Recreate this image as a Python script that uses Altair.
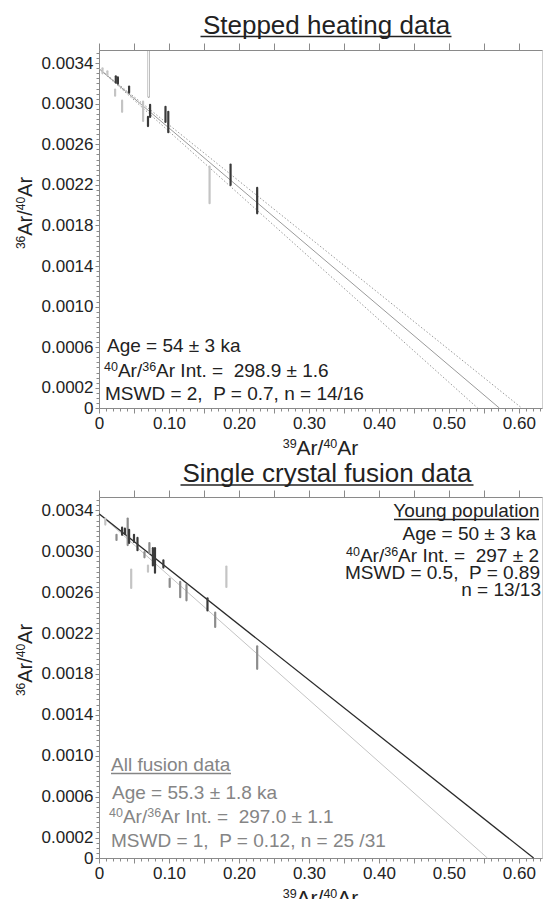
import altair as alt
import pandas as pd

# ---------------- data ----------------
# Stepped heating: error ellipses (x, y low, y high, style)
sh_x   = [0.005, 0.012, 0.024, 0.027, 0.043, 0.023, 0.033, 0.071, 0.063, 0.070, 0.073, 0.095, 0.099, 0.158, 0.188, 0.226]
sh_ylo = [0.00330, 0.00328, 0.00321, 0.00320, 0.00311, 0.00308, 0.00292, 0.00307, 0.00283, 0.00278, 0.00287, 0.00282, 0.00272, 0.00202, 0.00220, 0.00192]
sh_yhi = [0.00335, 0.00332, 0.00327, 0.00326, 0.00317, 0.00314, 0.00303, 0.00352, 0.00302, 0.00287, 0.00299, 0.00297, 0.00292, 0.00238, 0.00240, 0.00217]
sh_grp = ["light", "light", "dark", "dark", "dark", "light", "light", "hollow", "light",
          "dark", "dark", "dark", "dark", "light", "dark", "dark"]

# Stepped heating isochron: solid fit and dotted envelope (x-intercepts)
sh_y0 = 0.003346
sh_fit_x = [0.0, 0.572]
sh_env_lo_x = [0.0, 0.541]
sh_env_hi_x = [0.0, 0.604]

# Single crystal fusion: error ellipses
sc_x   = [0.009, 0.025, 0.033, 0.037, 0.041, 0.043, 0.046, 0.050, 0.055, 0.065, 0.070,
          0.072, 0.077, 0.080, 0.092, 0.101, 0.116, 0.125, 0.155, 0.166, 0.182, 0.226]
sc_ylo = [0.00326, 0.00311, 0.00316, 0.00317, 0.00306, 0.00308, 0.00264, 0.00309, 0.00301, 0.00294, 0.00280,
          0.00298, 0.00286, 0.00279, 0.00284, 0.00265, 0.00255, 0.00252, 0.00242, 0.00226, 0.00265, 0.00185]
sc_yhi = [0.00332, 0.00316, 0.00323, 0.00322, 0.00332, 0.00321, 0.00282, 0.00316, 0.00313, 0.00299, 0.00286,
          0.00308, 0.00303, 0.00303, 0.00291, 0.00273, 0.00270, 0.00267, 0.00254, 0.00240, 0.00285, 0.00207]
sc_grp = ["light", "mid", "dark", "dark", "mid", "dark", "light", "dark", "dark", "mid", "light",
          "mid", "dark", "dark", "dark", "mid", "mid", "mid", "dark", "mid", "light", "mid"]

# Single crystal isochrons
sc_y0 = 0.003367
young_fit_x = [0.0, 0.621]
all_fit_x = [0.0, 0.555]

# Text
sh_title = "Stepped heating data"
sc_title = "Single crystal fusion data"
sh_text = ["Age = 54 ± 3 ka", "⁴⁰Ar/³⁶Ar Int. =  298.9 ± 1.6", "MSWD = 2,  P = 0.7, n = 14/16"]
young_text = ["Young population", "Age = 50 ± 3 ka", "⁴⁰Ar/³⁶Ar Int. =  297 ± 2",
              "MSWD = 0.5,  P = 0.89", "n = 13/13"]
all_text = ["All fusion data", "Age = 55.3 ± 1.8 ka", "⁴⁰Ar/³⁶Ar Int. =  297.0 ± 1.1",
            "MSWD = 1,  P = 0.12, n = 25 /31"]
x_title = "³⁹Ar/⁴⁰Ar"
y_title = "³⁶Ar/⁴⁰Ar"

# Axis tick positions
x_major = [round(i * 0.05, 2) for i in range(13)]
x_minor = [round(i * 0.01, 2) for i in range(64)]
y_major = [0.0] + [round(0.0002 + i * 0.0004, 4) for i in range(9)]
y_minor = [round(i * 0.00005, 5) for i in range(71)]

FONT = "Liberation Sans"
AX = "#8a8a8a"
TXT = "#222222"
GREY_TXT = "#858585"
XDOM = [0, 0.633]
YDOM = [0, 0.00353]
W = 443
COLORS = {"dark": "#3a3a3a", "mid": "#8c8c8c", "light": "#c4c4c4", "hollow": "#8c8c8c"}

# Arial / Liberation Sans advance widths (1/1000 em)
ARIAL = {' ': 278, '\u00a0': 278, ',': 278, '.': 278, '/': 278, '=': 584, '±': 549,
         'A': 667, 'D': 722, 'I': 278, 'M': 833, 'P': 667, 'S': 667, 'W': 944, 'Y': 667,
         'a': 556, 'c': 500, 'd': 556, 'e': 556, 'f': 278, 'g': 556, 'h': 556, 'i': 222,
         'k': 500, 'l': 222, 'n': 556, 'o': 556, 'p': 556, 'r': 333, 's': 500, 't': 278,
         'u': 556, 'y': 500}
SUP = {'⁰': '0', '¹': '1', '²': '2', '³': '3', '⁴': '4', '⁵': '5', '⁶': '6', '⁷': '7', '⁸': '8', '⁹': '9'}


def keep_spaces(s):
    return s.replace("  ", " \u00a0")


def text_width(s, fs):
    return sum(ARIAL.get(c, 556) for c in s) * fs / 1000.0


def split_sup(s):
    segs = []
    for c in s:
        sup = c in SUP
        ch = SUP.get(c, c)
        if segs and segs[-1][1] == sup:
            segs[-1][0] += ch
        else:
            segs.append([ch, sup])
    return segs


def xs():
    return alt.Scale(domain=XDOM, nice=False, zero=False)


def ys():
    return alt.Scale(domain=YDOM, nice=False, zero=False)


def x_main_axis():
    return alt.Axis(orient="bottom", values=x_major, grid=False,
                    labelExpr="round(datum.value*20) % 2 == 0 ? (datum.value == 0 ? '0' : format(datum.value, '.2f')) : ''",
                    tickSize=5, tickColor=AX, domainColor=AX, labelFont=FONT, labelFontSize=17,
                    labelColor=TXT, labelPadding=2, labelFlush=False, labelOverlap=False, title=None)


def y_main_axis():
    return alt.Axis(orient="left", values=y_major, grid=False,
                    labelExpr="datum.value == 0 ? '0' : format(datum.value, '.4f')",
                    tickSize=4, tickColor=AX, domainColor=AX, labelFont=FONT, labelFontSize=17,
                    labelColor=TXT, labelPadding=2, labelFlush=False, labelOverlap=False, title=None)


def x_minor_axis():
    return alt.Axis(orient="bottom", values=x_minor, labels=False, domain=False, grid=False,
                    tickSize=3, tickColor=AX, title=None)


def y_minor_axis():
    return alt.Axis(orient="left", values=y_minor, labels=False, domain=False, grid=False,
                    tickSize=3, tickColor=AX, title=None)


def x_top_axis():
    return alt.Axis(orient="top", values=x_major, labels=False, grid=False,
                    tickSize=7, tickColor=AX, domainColor=AX, title=None)


def line_df(xv, y0):
    return pd.DataFrame({"x": xv, "y": [y0, 0.0]})


def text_layer(txt, x, y, align="left", color=TXT, size=19, dx=0, dy=0, angle=0):
    props = dict(align=align, baseline="alphabetic", font=FONT, fontSize=size, color=color)
    if dx:
        props["dx"] = dx
    if dy:
        props["dy"] = dy
    if angle:
        props["angle"] = angle
    return alt.Chart(pd.DataFrame({"t": [keep_spaces(txt)]})).mark_text(**props).encode(
        x=alt.value(x), y=alt.value(y), text="t:N")


def rich_text(txt, x, y, size=19, sup_size=12.5, rise=6, align="left", color=TXT, angle=0):
    segs = split_sup(keep_spaces(txt))
    widths = [text_width(s, sup_size if sup else size) for s, sup in segs]
    total = sum(widths)
    start = {"left": 0.0, "right": -total, "center": -total / 2.0}[align]
    layers = []
    pos = start
    for (s, sup), w in zip(segs, widths):
        layers.append(text_layer(s, x, y, align="left", color=color,
                                 size=sup_size if sup else size,
                                 dx=round(pos, 2) if pos else 0,
                                 dy=-rise if sup else 0, angle=angle))
        pos += w
    return layers


def underline(txt, x1, x2, y, color=TXT):
    return alt.Chart(pd.DataFrame({"t": [txt]})).mark_rule(color=color, strokeWidth=1.3).encode(
        x=alt.value(x1), x2=alt.value(x2), y=alt.value(y))


def points_layers(df):
    cscale = alt.Scale(domain=list(COLORS.keys()), range=list(COLORS.values()))
    rules = alt.Chart(df).mark_rule(strokeWidth=2.2, strokeCap="round").encode(
        x=alt.X("x:Q", scale=xs(), axis=x_minor_axis()),
        y=alt.Y("ylo:Q", scale=ys(), axis=y_minor_axis()),
        y2="yhi:Q",
        color=alt.Color("grp:N", scale=cscale, legend=None),
    )
    hollow = alt.Chart(df).transform_filter(alt.datum.grp == "hollow").mark_rule(
        strokeWidth=1.2, strokeCap="butt", color="white").encode(
        x=alt.X("x:Q", scale=xs(), axis=None),
        y=alt.Y("ylo:Q", scale=ys(), axis=None),
        y2="yhi:Q",
    )
    return rules, hollow


def axis_titles(h):
    return (rich_text(x_title, W / 2.0, h + 47, size=21, sup_size=12.5, rise=7.5, align="center")
            + rich_text(y_title, -67, 163, size=20, sup_size=12, rise=7, align="center", angle=270))


# ---------------- top panel ----------------
H1 = 358
sh_df = pd.DataFrame({"x": sh_x, "ylo": sh_ylo, "yhi": sh_yhi, "grp": sh_grp})
sh_rules, sh_hollow = points_layers(sh_df)

sh_fit = alt.Chart(line_df(sh_fit_x, sh_y0)).mark_line(color="#9a9a9a", strokeWidth=1).encode(
    x=alt.X("x:Q", scale=xs(), axis=x_main_axis()),
    y=alt.Y("y:Q", scale=ys(), axis=y_main_axis()),
)
sh_env1 = alt.Chart(line_df(sh_env_lo_x, sh_y0)).mark_line(
    color="#9a9a9a", strokeWidth=1, strokeDash=[1.5, 2]).encode(
    x=alt.X("x:Q", scale=xs(), axis=x_top_axis()),
    y=alt.Y("y:Q", scale=ys(), axis=None),
)
sh_env2 = alt.Chart(line_df(sh_env_hi_x, sh_y0)).mark_line(
    color="#9a9a9a", strokeWidth=1, strokeDash=[1.5, 2]).encode(
    x=alt.X("x:Q", scale=xs(), axis=None),
    y=alt.Y("y:Q", scale=ys(), axis=None),
)

top_layers = [sh_env1, sh_env2, sh_fit, sh_rules, sh_hollow,
              text_layer(sh_title, 227.5, -16, align="center", size=26),
              underline(sh_title, 101.5, 352.5, -13.5),
              text_layer(sh_text[0], 8, 301.5)]
top_layers += rich_text(sh_text[1], 5, 326.5)
top_layers += [text_layer(sh_text[2], 6, 350)]
top_layers += axis_titles(H1)

top = alt.layer(*top_layers).resolve_axis(x="independent", y="independent").properties(width=W, height=H1)

# ---------------- bottom panel ----------------
H2 = 361
sc_df = pd.DataFrame({"x": sc_x, "ylo": sc_ylo, "yhi": sc_yhi, "grp": sc_grp})
sc_rules, sc_hollow = points_layers(sc_df)

young_fit = alt.Chart(line_df(young_fit_x, sc_y0)).mark_line(color="#2a2a2a", strokeWidth=1.3).encode(
    x=alt.X("x:Q", scale=xs(), axis=x_main_axis()),
    y=alt.Y("y:Q", scale=ys(), axis=y_main_axis()),
)
all_fit = alt.Chart(line_df(all_fit_x, sc_y0)).mark_line(color="#c4c4c4", strokeWidth=1).encode(
    x=alt.X("x:Q", scale=xs(), axis=x_top_axis()),
    y=alt.Y("y:Q", scale=ys(), axis=None),
)

bottom_layers = [all_fit, young_fit, sc_rules, sc_hollow,
                 text_layer(sc_title, 228, -15, align="center", size=26),
                 underline(sc_title, 81.5, 374.5, -12),
                 text_layer(young_text[0], 440.5, 20, align="right"),
                 underline(young_text[0], 295, 440, 22.5),
                 text_layer(young_text[1], 437, 43, align="right")]
bottom_layers += rich_text(young_text[2], 440, 65, align="right")
bottom_layers += [text_layer(young_text[3], 441, 82, align="right"),
                  text_layer(young_text[4], 442, 99, align="right"),
                  text_layer(all_text[0], 12, 274, color=GREY_TXT),
                  underline(all_text[0], 12, 132, 276.5, color=GREY_TXT),
                  text_layer(all_text[1], 13, 301.5, color=GREY_TXT)]
bottom_layers += rich_text(all_text[2], 10, 326, color=GREY_TXT)
bottom_layers += [text_layer(all_text[3], 12, 350, color=GREY_TXT)]
bottom_layers += axis_titles(H2)

bottom = alt.layer(*bottom_layers).resolve_axis(x="independent", y="independent").properties(width=W, height=H2)

chart = alt.vconcat(top, bottom, spacing=89, bounds="flush").properties(
    padding={"left": 14, "top": 12, "right": 0, "bottom": 0},
    background="white",
).configure_view(stroke="#cfcfcf", strokeWidth=1)

chart.save("out.html", embed_options={"renderer": "svg", "actions": False})
